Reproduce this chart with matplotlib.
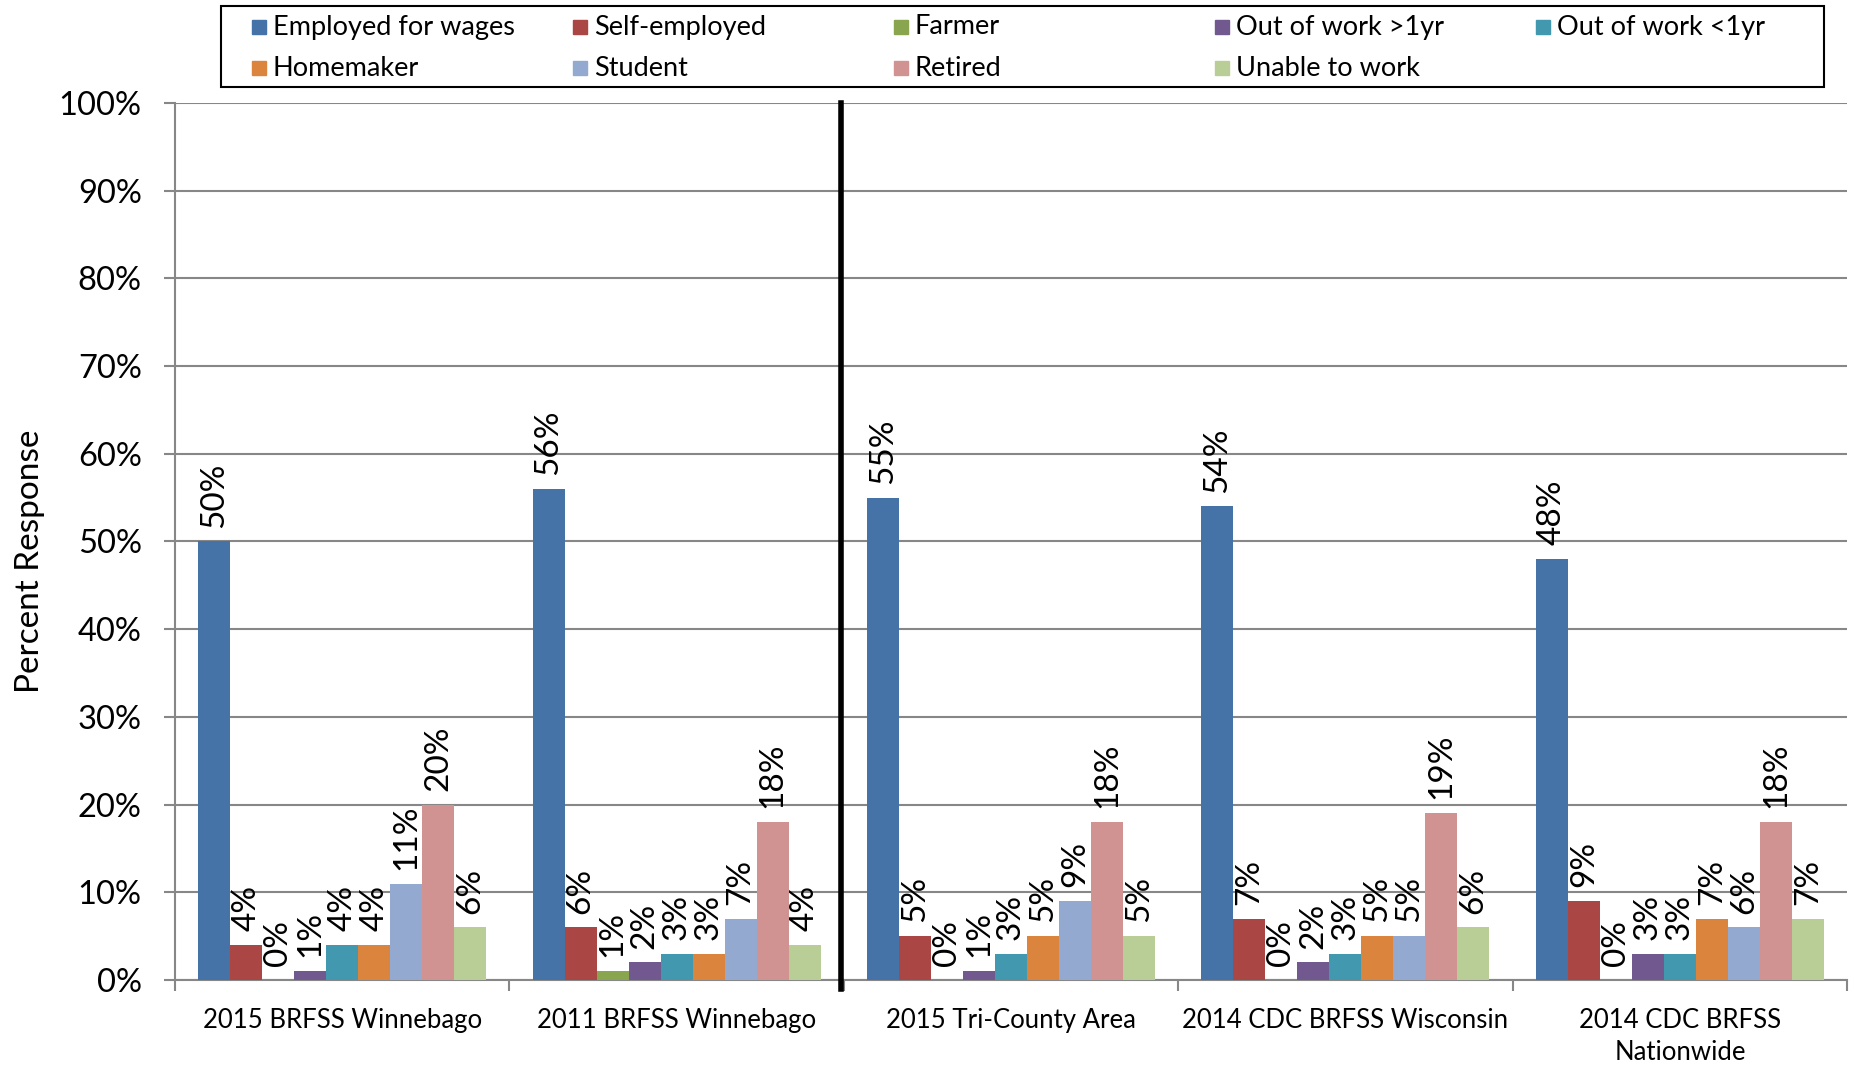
import matplotlib
matplotlib.use('Agg')
import matplotlib.pyplot as plt
from matplotlib.patches import Rectangle
import numpy as np

# Data
groups = ['2015 BRFSS Winnebago', '2011 BRFSS Winnebago', '2015 Tri-County Area',
          '2014 CDC BRFSS Wisconsin', '2014 CDC BRFSS\nNationwide']
series = ['Employed for wages', 'Self-employed', 'Farmer', 'Out of work >1yr',
          'Out of work <1yr', 'Homemaker', 'Student', 'Retired', 'Unable to work']
colors = ['#4572A7', '#AA4643', '#89A54E', '#71588F', '#4198AF',
          '#DB843D', '#93A9CF', '#D19392', '#B9CD96']

employed = [50, 56, 55, 54, 48]
self_employed = [4, 6, 5, 7, 9]
farmer = [0, 1, 0, 0, 0]
out_gt1 = [1, 2, 1, 2, 3]
out_lt1 = [4, 3, 3, 3, 3]
homemaker = [4, 3, 5, 5, 7]
student = [11, 7, 9, 5, 6]
retired = [20, 18, 18, 19, 18]
unable = [6, 4, 5, 6, 7]
values = [employed, self_employed, farmer, out_gt1, out_lt1,
          homemaker, student, retired, unable]

yticks = list(range(0, 101, 10))

plt.rcParams['font.family'] = ['Lato', 'DejaVu Sans']

W, H = 1856, 1065
fig = plt.figure(figsize=(W / 100, H / 100), dpi=100)
ax = fig.add_axes([0.0943, 0.0798, 0.9009, 0.8235])

x = np.arange(len(groups))
n = len(series)
bw = 0.0957
for i, (name, vals) in enumerate(zip(series, values)):
    pos = x + (i - (n - 1) / 2) * bw
    bars = ax.bar(pos, vals, bw, color=colors[i], label=name, zorder=3)
    for b, v in zip(bars, vals):
        ax.annotate(f'{v}%', (b.get_x() + b.get_width() / 2, v),
                    xytext=(0, 10), textcoords='offset points',
                    rotation=90, ha='center', va='bottom', fontsize=24)

ax.set_xlim(-0.5, len(groups) - 0.5)
ax.set_ylim(0, 100)
ax.set_yticks(yticks)
ax.set_yticklabels([f'{t}%' for t in yticks], fontsize=23.5)
ax.yaxis.grid(True, color='#878787', lw=1.5, zorder=0)
ax.tick_params(axis='y', length=8, width=1.5, color='#878787', pad=16)

ax.set_xticks(x)
ax.set_xticklabels(groups, fontsize=18.5, linespacing=1.35)
ax.set_xticks(np.arange(len(groups) + 1) - 0.5, minor=True)
ax.tick_params(axis='x', which='major', length=0, pad=20)
ax.tick_params(axis='x', which='minor', length=8, width=1.5, color='#878787')

for s in ['top', 'right']:
    ax.spines[s].set_visible(False)
for s in ['left', 'bottom']:
    ax.spines[s].set_color('#878787')
    ax.spines[s].set_linewidth(1.5)

ax.set_ylabel('Percent Response', fontsize=24)
ax.yaxis.set_label_coords(-0.078, 0.477)

# thick divider between Winnebago surveys and comparison data
ax.axvline(1.49, ymin=-0.01, ymax=1.0, color='black', lw=4, clip_on=False, zorder=4)

# legend box laid out in rows like the original
fig.patches.append(Rectangle((221 / W, 1 - 87 / H), (1824 - 221) / W, 81 / H,
                             transform=fig.transFigure, fill=False,
                             edgecolor='black', lw=1.5))
sq = 14
for i, (name, c) in enumerate(zip(series, colors)):
    row, col = divmod(i, 5)
    px = 252 + col * 321
    py = 27 + row * 41
    fig.patches.append(Rectangle((px / W, 1 - (py + sq / 2) / H), sq / W, sq / H,
                                 transform=fig.transFigure, color=c))
    fig.text((px + 21) / W, 1 - py / H, name, fontsize=19.5, va='center', ha='left')

fig.savefig('out.png', dpi=100)
